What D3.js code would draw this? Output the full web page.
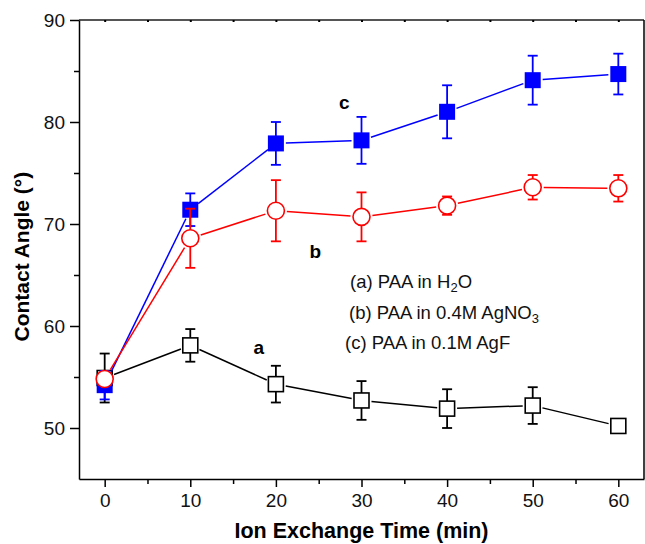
<!DOCTYPE html>
<html>
<head>
<meta charset="utf-8">
<script src="https://cdn.jsdelivr.net/npm/d3@7"></script>
<style>
body { margin: 0; background: #fff; }
text { font-family: "Liberation Sans", Arial, sans-serif; }
</style>
</head>
<body>
<script>
// data
var times = [0, 10, 20, 30, 40, 50, 60];
// (a) PAA in H2O
var aMean = [54.9, 58.1, 54.3, 52.7, 51.9, 52.2, 50.2];
var aErr  = [2.4, 1.6, 1.8, 1.9, 1.9, 1.8, 0.3];
// (b) PAA in 0.4M AgNO3
var bMean = [54.8, 68.6, 71.3, 70.7, 71.8, 73.6, 73.5];
var bErr  = [0.5, 2.9, 3.0, 2.4, 0.9, 1.2, 1.3];
// (c) PAA in 0.1M AgF
var cMean = [54.2, 71.4, 77.9, 78.2, 81.0, 84.1, 84.7];
var cErr  = [1.4, 1.6, 2.1, 2.3, 2.6, 2.4, 2.0];
var xTicks = [0, 10, 20, 30, 40, 50, 60];
var yTicks = [50, 60, 70, 80, 90];
var legendLines = ["(a) PAA in H|2|O", "(b) PAA in 0.4M AgNO|3|", "(c) PAA in 0.1M AgF"];

var W = 645, H = 544;
var margin = {top: 20, right: 1, bottom: 65, left: 79};
var cw = W - margin.left - margin.right;
var ch = H - margin.top - margin.bottom;

var svg = d3.select('body').append('svg').attr('width', W).attr('height', H);
var g = svg.append('g').attr('transform', `translate(${margin.left},${margin.top})`);

var x = d3.scaleLinear().domain([-3, 63]).range([0, cw]);
var y = d3.scaleLinear().domain([45, 90]).range([ch, 0]);

// frame
g.append('line').attr('x1', 0).attr('x2', cw).attr('y1', 0).attr('y2', 0)
  .attr('stroke', '#555').attr('stroke-width', 2);
g.append('line').attr('x1', cw).attr('x2', cw).attr('y1', 0).attr('y2', ch)
  .attr('stroke', '#000').attr('stroke-width', 1.5);

// minor ticks
var xMinor = d3.range(5, 60, 10);
var yMinor = d3.range(55, 90, 10);
g.append('g').attr('transform', `translate(0,${ch})`)
  .call(d3.axisBottom(x).tickValues(xMinor).tickSize(5).tickFormat(''))
  .call(a => a.select('.domain').remove())
  .selectAll('line').attr('stroke-width', 1.5);
g.append('g')
  .call(d3.axisLeft(y).tickValues(yMinor).tickSize(5).tickFormat(''))
  .call(a => a.select('.domain').remove())
  .selectAll('line').attr('stroke-width', 1.5);

// top small ticks
g.append('g')
  .call(d3.axisBottom(x).tickValues(d3.range(0, 61, 5)).tickSize(2).tickFormat(''))
  .call(a => a.select('.domain').remove())
  .selectAll('line').attr('stroke-width', 2);

var xAxis = g.append('g').attr('transform', `translate(0,${ch})`)
  .call(d3.axisBottom(x).tickValues(xTicks).tickSize(8).tickSizeOuter(0).tickPadding(6));
var yAxis = g.append('g')
  .call(d3.axisLeft(y).tickValues(yTicks).tickSize(9).tickSizeOuter(0).tickPadding(5));
[xAxis, yAxis].forEach(function (ax) {
  ax.select('.domain').attr('stroke-width', 1.5);
  ax.selectAll('.tick line').attr('stroke-width', 1.5);
  ax.selectAll('.tick text').attr('font-size', 19).attr('fill', '#111')
    .style('font-family', '"Liberation Sans", Arial, sans-serif');
});
yAxis.selectAll('.tick text').attr('dy', '0.36em');
xAxis.selectAll('.tick text').attr('dy', '0.75em');

// series drawing
function drawSeries(mean, err, color, shape, filled) {
  var pts = times.map((t, i) => ({x: x(t), y: y(mean[i]), lo: y(mean[i] - err[i]), hi: y(mean[i] + err[i])}));
  var sg = g.append('g');
  var gap = shape === 'circle' ? 11 : 10;
  // connecting segments that stop short of the markers
  for (var i = 0; i < pts.length - 1; i++) {
    var p = pts[i], q = pts[i + 1];
    var dx = q.x - p.x, dy = q.y - p.y, len = Math.sqrt(dx * dx + dy * dy);
    if (len <= 2 * gap) continue;
    var ux = dx / len, uy = dy / len;
    sg.append('line')
      .attr('x1', p.x + ux * gap).attr('y1', p.y + uy * gap)
      .attr('x2', q.x - ux * gap).attr('y2', q.y - uy * gap)
      .attr('stroke', color).attr('stroke-width', 1.5);
  }
  // error bars
  pts.forEach(function (p) {
    sg.append('line').attr('x1', p.x).attr('x2', p.x).attr('y1', p.lo).attr('y2', p.hi)
      .attr('stroke', color).attr('stroke-width', 1.8);
    [p.lo, p.hi].forEach(function (yy) {
      sg.append('line').attr('x1', p.x - 5).attr('x2', p.x + 5).attr('y1', yy).attr('y2', yy)
        .attr('stroke', color).attr('stroke-width', 1.8);
    });
  });
  // markers
  pts.forEach(function (p) {
    if (shape === 'circle') {
      sg.append('circle').attr('cx', p.x).attr('cy', p.y).attr('r', 8.5)
        .attr('fill', '#fff').attr('stroke', color).attr('stroke-width', 1.6);
    } else {
      var s = filled ? 16 : 15;
      sg.append('rect').attr('x', p.x - s / 2).attr('y', p.y - s / 2).attr('width', s).attr('height', s)
        .attr('fill', filled ? color : '#fff').attr('stroke', filled ? 'none' : color).attr('stroke-width', 1.6);
    }
  });
}

drawSeries(aMean, aErr, '#000', 'square', false);
drawSeries(cMean, cErr, '#0000ff', 'square', true);
drawSeries(bMean, bErr, '#ff0000', 'circle', false);

// series letters
var letters = [{t: 'a', v: [18, 57.3]}, {t: 'b', v: [24.6, 66.7]}, {t: 'c', v: [28, 81.3]}];
letters.forEach(function (l) {
  g.append('text').attr('x', x(l.v[0])).attr('y', y(l.v[1]))
    .attr('text-anchor', 'middle').attr('font-size', 19).attr('font-weight', 'bold').text(l.t);
});

// legend text
var legX = [350, 349, 345], legY = [288, 319, 349];
legendLines.forEach(function (s, i) {
  var parts = s.split('|');
  var t = svg.append('text').attr('x', legX[i]).attr('y', legY[i]).attr('font-size', 18.5).attr('fill', '#111');
  parts.forEach(function (p, j) {
    if (!p) return;
    if (j % 2 === 1) {
      t.append('tspan').attr('font-size', 13).attr('dy', 4).text(p);
    } else {
      t.append('tspan').attr('dy', j > 0 ? -4 : 0).text(p);
    }
  });
});

// axis titles
svg.append('text').attr('x', margin.left + x(30)).attr('y', 538)
  .attr('text-anchor', 'middle').attr('font-size', 21.5).attr('font-weight', 'bold').text('Ion Exchange Time (min)');
svg.append('text').attr('transform', `translate(29,${margin.top + y(66.8)}) rotate(-90)`)
  .attr('text-anchor', 'middle').attr('font-size', 21).attr('font-weight', 'bold').text('Contact Angle (°)');
</script>
</body>
</html>
